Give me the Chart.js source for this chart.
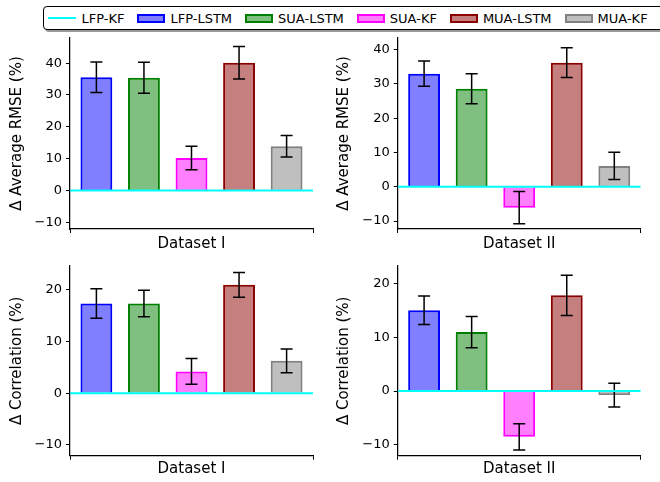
<!DOCTYPE html>
<html>
<head>
<meta charset="utf-8">
<script src="https://cdn.jsdelivr.net/npm/chart.js@4.4.1/dist/chart.umd.min.js"></script>
<style>
    body { margin: 0; background: #fff; width: 660px; height: 482px; overflow: hidden; position: relative; font-family: "DejaVu Sans", sans-serif; }
    canvas { position: absolute; }
    #legend { position: absolute; left: 43px; top: 6px; width: 640px; height: 22px; border: 1px solid #000; border-radius: 4px;
              box-shadow: 2px 2px 0 #999; background: #fff; display: flex; align-items: center; font-size: 13px; padding-left: 4px; box-sizing: content-box; }
    .item { display: flex; align-items: center; margin-right: 13px; color: #000; }
    .line { width: 28px; height: 2px; margin-right: 5.5px; }
    .patch { width: 28px; height: 9px; box-sizing: border-box; border: 2px solid; margin-right: 5px; }
</style>
</head>
<body>
<div id="legend"></div>
<canvas id="rmse1" width="330" height="224" style="left:0;top:32px"></canvas>
<canvas id="rmse2" width="330" height="224" style="left:330px;top:32px"></canvas>
<canvas id="corr1" width="330" height="226" style="left:0;top:256px"></canvas>
<canvas id="corr2" width="330" height="226" style="left:330px;top:256px"></canvas>
<script>
// methods compared against the LFP-KF baseline
const baselineName = 'LFP-KF';
const baselineValue = 0;
const methods = ['LFP-LSTM', 'SUA-LSTM', 'SUA-KF', 'MUA-LSTM', 'MUA-KF'];
const edgeColors = ['#0000ff', '#008000', '#ff00ff', '#8b0000', '#808080'];
const fillColors = ['rgba(0,0,255,0.5)', 'rgba(0,128,0,0.5)', 'rgba(255,0,255,0.5)', 'rgba(139,0,0,0.5)', 'rgba(128,128,128,0.5)'];
const datasetNames = ['Dataset I', 'Dataset II'];

// delta average RMSE (%)
const rmseDataset1 = [35.6, 35.4, 10.2, 40.1, 13.9];
const rmseErr1 = [4.8, 4.85, 3.7, 5.1, 3.35];
const rmseDataset2 = [33.0, 28.6, -6.1, 36.2, 6.1];
const rmseErr2 = [3.7, 4.35, 4.7, 4.35, 3.95];

// delta correlation (%)
const corrDataset1 = [17.35, 17.35, 4.2, 20.95, 6.25];
const corrErr1 = [2.85, 2.55, 2.5, 2.4, 2.3];
const corrDataset2 = [15.0, 10.95, -8.5, 17.75, -0.75];
const corrErr2 = [2.65, 2.9, 2.45, 3.75, 2.2];

const rmseTicks = [-10, 0, 10, 20, 30, 40];
const corrTicks = [-10, 0, 10, 20];

const xMin = -0.555, xMax = 4.555;

// legend
const legend = document.getElementById('legend');
legend.innerHTML = '<div class="item"><div class="line" style="background:#00ffff"></div>' + baselineName + '</div>' +
    methods.map(function (m, i) {
        return '<div class="item"><div class="patch" style="background:' + fillColors[i] + ';border-color:' + edgeColors[i] + '"></div>' + m + '</div>';
    }).join('');

const errorBarPlugin = {
    id: 'errorBars',
    afterDatasetDraw(chart, args) {
        const ds = chart.data.datasets[args.index];
        if (!ds.errors) return;
        const ctx = chart.ctx;
        const y = chart.scales.y;
        ctx.save();
        ctx.strokeStyle = '#000';
        ctx.lineWidth = 1.5;
        args.meta.data.forEach(function (bar, i) {
            const v = ds.data[i].y, e = ds.errors[i];
            const top = y.getPixelForValue(v + e), bot = y.getPixelForValue(v - e);
            ctx.beginPath();
            ctx.moveTo(bar.x, top); ctx.lineTo(bar.x, bot);
            ctx.moveTo(bar.x - 6, top); ctx.lineTo(bar.x + 6, top);
            ctx.moveTo(bar.x - 6, bot); ctx.lineTo(bar.x + 6, bot);
            ctx.stroke();
        });
        ctx.restore();
    }
};

function fmt(v) {
    return v < 0 ? '\u2212' + Math.abs(v) : String(v);
}

function makePanel(id, values, errs, yMin, yMax, yTicks, yTitle, xTitle, g) {
    new Chart(document.getElementById(id), {
        type: 'bar',
        data: {
            datasets: [
                {
                    type: 'line',
                    label: baselineName,
                    data: [{ x: xMin, y: baselineValue }, { x: xMax, y: baselineValue }],
                    borderColor: '#00ffff',
                    borderWidth: 2,
                    pointRadius: 0
                },
                {
                    type: 'bar',
                    label: xTitle,
                    data: values.map(function (v, i) { return { x: i, y: v }; }),
                    errors: errs,
                    backgroundColor: fillColors,
                    borderColor: edgeColors,
                    borderWidth: 2,
                    borderSkipped: 'start',
                    barPercentage: 0.67,
                    categoryPercentage: 1
                }
            ]
        },
        options: {
            responsive: false,
            animation: false,
            devicePixelRatio: 1,
            layout: { padding: { top: g.top, right: g.right, left: 0, bottom: 0 } },
            plugins: { legend: { display: false }, tooltip: { enabled: false } },
            scales: {
                x: {
                    type: 'linear',
                    min: xMin,
                    max: xMax,
                    offset: false,
                    afterBuildTicks: function (s) { s.ticks = [{ value: 2 }]; },
                    afterFit: function (s) { s.height = g.xh; s.paddingLeft = 0; s.paddingRight = 0; },
                    ticks: { display: false },
                    grid: { drawOnChartArea: false, tickLength: 4, color: '#000', lineWidth: 1 },
                    border: { color: '#000', width: 1.25 },
                    title: { display: true, text: xTitle, color: '#000', font: { family: 'DejaVu Sans', size: 15 }, padding: { top: 0, bottom: g.tb } }
                },
                y: {
                    min: yMin,
                    max: yMax,
                    afterBuildTicks: function (s) { s.ticks = yTicks.map(function (v) { return { value: v }; }); },
                    afterFit: function (s) { s.width = g.yw; s.paddingTop = 0; s.paddingBottom = 0; },
                    ticks: { color: '#000', font: { family: 'DejaVu Sans', size: 13 }, padding: 4, callback: fmt },
                    grid: { drawOnChartArea: false, tickLength: 4, color: '#000', lineWidth: 1 },
                    border: { color: '#000', width: 1.25 },
                    title: { display: true, text: yTitle, color: '#000', font: { family: 'DejaVu Sans', size: 15 }, padding: { top: g.tp, bottom: 0 } }
                }
            }
        },
        plugins: [errorBarPlugin]
    });
}

makePanel('rmse1', rmseDataset1, rmseErr1, -12.1, 47.9, rmseTicks, '\u0394 Average RMSE (%)', datasetNames[0],
    { top: 6, right: 17, yw: 70, xh: 27, tb: 2.5, tp: 8 });
makePanel('rmse2', rmseDataset2, rmseErr2, -12.3, 43.4, rmseTicks, '\u0394 Average RMSE (%)', datasetNames[1],
    { top: 6, right: 19.3, yw: 67.7, xh: 27, tb: 2.5, tp: 5 });
makePanel('corr1', corrDataset1, corrErr1, -12.1, 24.6, corrTicks, '\u0394 Correlation (%)', datasetNames[0],
    { top: 10, right: 17, yw: 70, xh: 26.3, tb: 3.5, tp: 8.5 });
makePanel('corr2', corrDataset2, corrErr2, -12.0, 23.2, corrTicks, '\u0394 Correlation (%)', datasetNames[1],
    { top: 10, right: 19.3, yw: 67.7, xh: 26.3, tb: 3.5, tp: 5 });
</script>
</body>
</html>
